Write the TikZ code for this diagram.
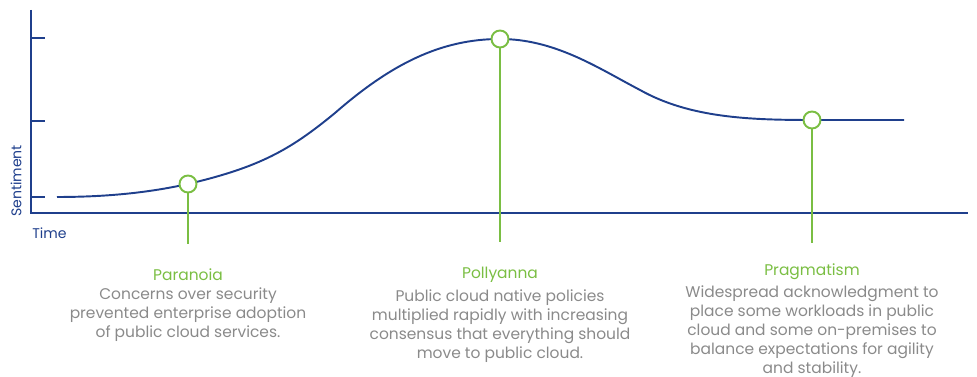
\documentclass[tikz,border=0pt]{standalone}
\usepackage{fontspec}
\setmainfont{Poppins}
\usepackage{tikz}
\usetikzlibrary{positioning}
\definecolor{navy}{RGB}{31,63,140}
\definecolor{leaf}{RGB}{122,190,67}
\definecolor{greytext}{RGB}{138,138,138}
\tikzset{
  axis/.style={navy,line width=1.1pt},
  phase/.style={circle,draw=leaf,fill=white,line width=1.1pt,minimum size=0.34cm,inner sep=0pt},
  stem/.style={leaf,line width=1.1pt},
  phasetitle/.style={leaf,font=\fontsize{8.8}{10.8}\selectfont,inner sep=0pt},
  phasetext/.style={greytext,font=\fontsize{8.8}{10.8}\selectfont,align=center,inner sep=0pt},
}

\begin{document}
\begin{tikzpicture}[x=0.02cm,y=-0.02cm]
    \useasboundingbox (0,0) rectangle (977,377);
    % axes
    \coordinate (origin) at (31,213);
    \coordinate (ytop) at (31,10);
    \coordinate (xend) at (968,213);
    \draw[axis] (ytop) -- (origin) -- (xend);
    \foreach \y in {38,121,197}
      \draw[axis] (31,\y) -- (45,\y);
    \node[navy,font=\fontsize{8}{10}\selectfont,rotate=90,inner sep=0pt] (sentiment) at (16,181) {Sentiment};
    \node[navy,font=\fontsize{8}{10}\selectfont,anchor=west,inner sep=0pt] (time) at (32,233) {Time};
    % sentiment curve
    \coordinate (start) at (57,197);
    \coordinate (para) at (188,184);
    \coordinate (polly) at (500,39);
    \coordinate (prag) at (812,120);
    \coordinate (finish) at (904,120);
    \draw[axis] (start) .. controls (120,197) and (160,190) .. (para)
      .. controls (260,167) and (290,150) .. (335,113)
      .. controls (390,65) and (440,39) .. (polly)
      .. controls (555,39) and (598,68) .. (640,90)
      .. controls (690,118) and (750,120) .. (prag) -- (finish);
    % phases
    \node[phase] (paranoia) at (para) {};
    \node[phase] (pollyanna) at (polly) {};
    \node[phase] (pragmatism) at (prag) {};
    \coordinate (paranoiafoot) at (188,244);
    \coordinate (pollyannafoot) at (500,242);
    \coordinate (pragmatismfoot) at (812,243);
    \draw[stem] (paranoia.south) -- (paranoiafoot);
    \draw[stem] (pollyanna.south) -- (pollyannafoot);
    \draw[stem] (pragmatism.south) -- (pragmatismfoot);
    % captions
    \node[phasetitle] (paranoiatitle) at (188,275) {Paranoia};
    \node[phasetext,below=3.5pt of paranoiatitle] (paranoiatext) {Concerns over security\\prevented enterprise adoption\\of public cloud services.};
    \node[phasetitle] (pollyannatitle) at (500,275) {Pollyanna};
    \node[phasetext,below=3.5pt of pollyannatitle] (pollyannatext) {Public cloud native policies\\multiplied rapidly with increasing\\consensus that everything should\\move to public cloud.};
    \node[phasetitle] (pragmatismtitle) at (812,272) {Pragmatism};
    \node[phasetext,below=3pt of pragmatismtitle] (pragmatismtext) {Widespread acknowledgment to\\place some workloads in public\\cloud and some on-premises to\\balance expectations for agility\\and stability.};
\end{tikzpicture}
\end{document}
